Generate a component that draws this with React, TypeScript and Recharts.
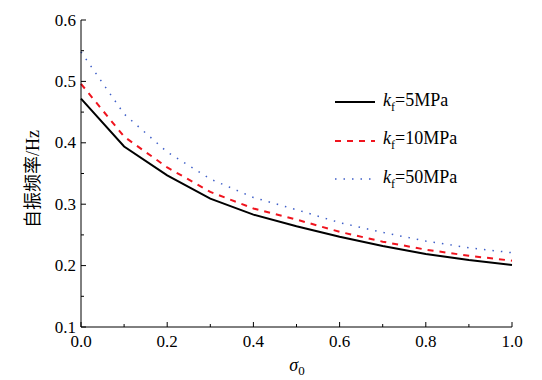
import { LineChart, Line, XAxis, YAxis } from 'recharts';

const sigma = [0, 0.1, 0.2, 0.3, 0.4, 0.5, 0.6, 0.7, 0.8, 0.9, 1.0];
const kf5 = [0.472, 0.394, 0.347, 0.309, 0.283, 0.264, 0.247, 0.232, 0.219, 0.209, 0.201];
const kf10 = [0.496, 0.41, 0.36, 0.32, 0.293, 0.275, 0.255, 0.239, 0.226, 0.216, 0.208];
const kf50 = [0.548, 0.447, 0.385, 0.341, 0.311, 0.291, 0.27, 0.254, 0.24, 0.229, 0.221];

const xTicks = [0, 0.1, 0.2, 0.3, 0.4, 0.5, 0.6, 0.7, 0.8, 0.9, 1.0];
const yTicks = [0.1, 0.15, 0.2, 0.25, 0.3, 0.35, 0.4, 0.45, 0.5, 0.55, 0.6];

const seriesNames = ['5MPa', '10MPa', '50MPa'];
const seriesKeys = ['a', 'b', 'c'];
const seriesColors = ['#000000', '#f0141e', '#3f5fc8'];
const seriesWidths = [2, 2, 1.5];
const seriesDash = [undefined, '6 6', '1.5 7'];

const data = sigma.map((s, i) => ({ s, a: kf5[i], b: kf10[i], c: kf50[i] }));

const FONT = '"Liberation Serif", "Times New Roman", serif';

const isMajor = (v: number, step: number) => Math.abs(Math.round(v / step) * step - v) < 1e-6;

function XTick({ x, y, payload }: any) {
  const major = isMajor(payload.value, 0.2);
  return (
    <g>
      <line x1={x} y1={y} x2={x} y2={y - (major ? 5 : 3)} stroke="#000" strokeWidth={1} />
      {major && (
        <text x={x} y={y + 20} textAnchor="middle" fontSize={17} style={{ fontFamily: FONT }} fill="#000">
          {payload.value.toFixed(1)}
        </text>
      )}
    </g>
  );
}

function YTick({ x, y, payload }: any) {
  const major = isMajor(payload.value, 0.1);
  return (
    <g>
      <line x1={x} y1={y} x2={x + (major ? 5 : 3)} y2={y} stroke="#000" strokeWidth={1} />
      {major && (
        <text x={x - 5} y={y + 5.5} textAnchor="end" fontSize={17} style={{ fontFamily: FONT }} fill="#000">
          {payload.value.toFixed(1)}
        </text>
      )}
    </g>
  );
}

function LegendBox() {
  return (
    <div style={{ position: 'absolute', left: 335, top: 83, fontFamily: FONT, fontSize: 18, color: '#000' }}>
      {seriesNames.map((n, i) => (
        <div key={n} style={{ display: 'flex', alignItems: 'center', height: 38.5 }}>
          <svg width={40} height={6} style={{ marginRight: 8 }}>
            <line
              x1={0}
              y1={3}
              x2={40}
              y2={3}
              stroke={seriesColors[i]}
              strokeWidth={seriesWidths[i]}
              strokeDasharray={seriesDash[i]}
            />
          </svg>
          <span>
            <i>k</i>
            <sub style={{ fontSize: 12 }}>f</sub>={n}
          </span>
        </div>
      ))}
    </div>
  );
}

export default function App() {
  return (
    <div style={{ position: 'absolute', left: 0, top: 0, width: 542, height: 380, background: '#fff' }}>
      <LineChart width={542} height={380} data={data} margin={{ top: 20, right: 30, bottom: 0, left: 0 }}>
        <XAxis
          dataKey="s"
          type="number"
          domain={[0, 1]}
          ticks={xTicks}
          interval={0}
          height={53}
          tickSize={0}
          tickMargin={0}
          tickLine={false}
          tick={<XTick />}
          axisLine={{ stroke: '#000', strokeWidth: 1 }}
        />
        <YAxis
          type="number"
          domain={[0.1, 0.6]}
          ticks={yTicks}
          interval={0}
          width={81}
          tickSize={0}
          tickMargin={0}
          tickLine={false}
          tick={<YTick />}
          axisLine={{ stroke: '#000', strokeWidth: 1 }}
        />
        {seriesKeys.map((k, i) => (
          <Line
            key={k}
            type="linear"
            dataKey={k}
            name={seriesNames[i]}
            stroke={seriesColors[i]}
            strokeWidth={seriesWidths[i]}
            strokeDasharray={seriesDash[i]}
            dot={false}
            isAnimationActive={false}
          />
        ))}
      </LineChart>
      <LegendBox />
      <div
        style={{
          position: 'absolute',
          left: 31,
          top: 179,
          transform: 'translate(-50%, -50%) rotate(-90deg)',
          whiteSpace: 'nowrap',
          fontFamily: '"Liberation Serif", "Noto Sans CJK SC", serif',
          fontSize: 18,
        }}
      >
        自振频率/Hz
      </div>
      <div
        style={{
          position: 'absolute',
          left: 297,
          top: 367,
          transform: 'translate(-50%, -50%)',
          whiteSpace: 'nowrap',
          fontFamily: FONT,
          fontSize: 18,
        }}
      >
        <i>σ</i>
        <sub style={{ fontSize: 13 }}>0</sub>
      </div>
    </div>
  );
}
